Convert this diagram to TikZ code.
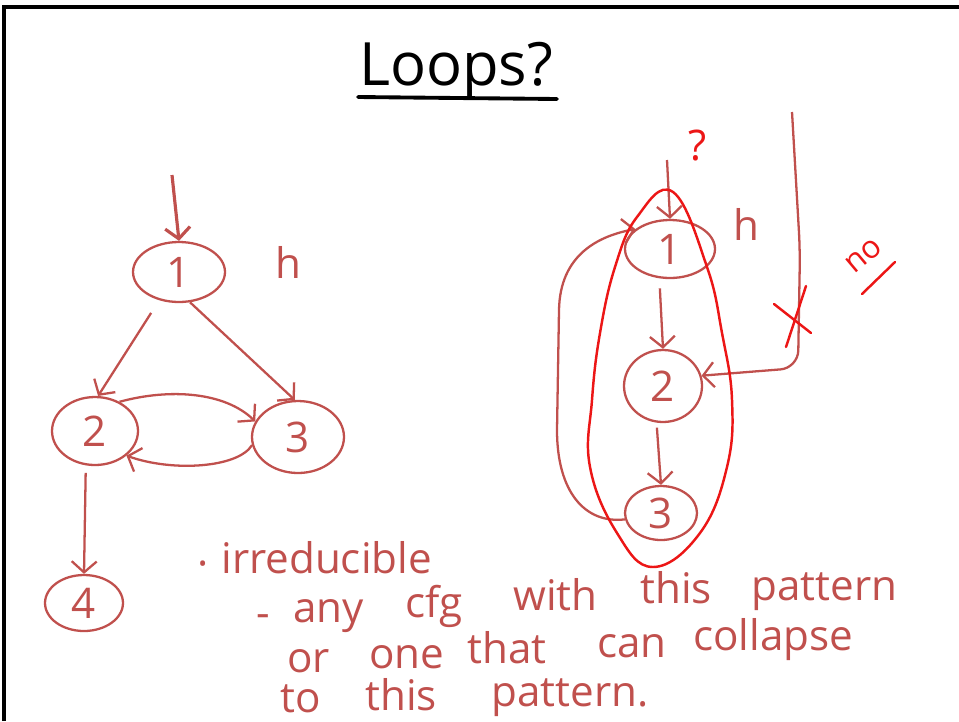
\documentclass[tikz,border=0pt]{standalone}
\usepackage{fontspec}
\setmainfont{Open Sans}
\usepackage{tikz}
\usetikzlibrary{arrows.meta, shapes, positioning}
\definecolor{pen}{RGB}{192,80,77}
\definecolor{marker}{RGB}{236,22,22}
\tikzset{
  blk/.style={ellipse, draw=pen, line width=1.3pt, inner sep=0pt, text=pen,
              font=\fontsize{24}{24}\selectfont},
  flow/.style={-{Straight Barb[length=2.2mm, width=5mm]}, draw=pen, line width=1.3pt},
  ink/.style={text=pen, font=\fontsize{24}{24}\selectfont},
  note/.style={ink, anchor=base west, inner sep=0pt},
  redpen/.style={draw=marker, line width=1.4pt, line cap=round, line join=round},
  redtext/.style={text=marker, inner sep=0pt}
}

\begin{document}
\begin{tikzpicture}[x=0.02cm, y=-0.02cm]
  \useasboundingbox (0,0) rectangle (959,721);
  \draw[line width=2.1pt] (4,721) -- (4,7) -- (959,7);

  \node[font=\fontsize{34}{36}\selectfont, anchor=base, inner sep=0pt] (title) at (456,85) {Loops?};
  \draw[line width=2.2pt, line cap=round] (358,97) -- (557,99);

  % left graph
  \node[blk, minimum width=1.84cm, minimum height=1.2cm] (L1) at (179,272) {1};
  \node[blk, minimum width=1.72cm, minimum height=1.36cm] (L2) at (95,431) {2};
  \node[blk, minimum width=1.84cm, minimum height=1.44cm] (L3) at (298,437) {3};
  \node[blk, minimum width=1.56cm, minimum height=1.12cm] (L4) at (84,603) {4};
  \node[ink] (Lh) at (288,262) {h};
  \coordinate (Lin) at (172,175);
  \draw[flow, line width=1.8pt] (Lin) -- (L1.north);
  \draw[flow, shorten <=3mm] (L1.235) -- (L2.85);
  \draw[flow] (L1.-70) -- (L3.95);
  \draw[flow] (L2.50) .. controls (170,388) and (225,392) .. (L3.160);
  \draw[flow] (L3.190) .. controls (238,468) and (172,472) .. (L2.322);
  \draw[flow, shorten <=1.5mm] (L2.255) -- (L4.north);

  % right graph
  \node[blk, minimum width=1.8cm, minimum height=1.16cm] (R1) at (670,249) {1};
  \node[blk, minimum width=1.56cm, minimum height=1.44cm] (R2) at (663,386) {2};
  \node[blk, minimum width=1.44cm, minimum height=1.08cm] (R3) at (661,513) {3};
  \node[ink] (Rh) at (746,224) {h};
  \coordinate (Rin) at (667,160);
  \coordinate (Rside) at (792,112);
  \draw[flow] (Rin) -- (R1.north);
  \draw[flow, shorten <=2mm] (R1.250) -- (R2.north);
  \draw[flow, shorten <=1mm] (R2.260) -- (R3.north);
  \draw[flow] (R3.190) .. controls (585,524) and (557,492) .. (557,430)
    -- (559,310) .. controls (560,255) and (598,236) .. (R1.150);
  \draw[flow, rounded corners=0.35cm] (Rside) -- (800,250) -- (798,368) -- (R2.15);

  % red annotations
  \draw[redpen] plot[smooth cycle, tension=0.7] coordinates {(673,192) (707,267)
    (722,333) (732,400) (727,467) (700,533) (653,567) (617,533) (590,467)
    (592,400) (600,333) (615,267) (637,217)};
  \draw[redpen] (774,304) -- (811,333);
  \draw[redpen] (806,286) -- (786,347);
  \node[redtext, font=\fontsize{24}{24}\selectfont] (qm) at (698,146) {?};
  \node[redtext, font=\fontsize{18}{18}\selectfont, rotate=40] (no) at (864,256) {no};
  \draw[redpen] (862,294) -- (895,262);

  % notes
  \foreach \w/\x/\y [count=\i] in {·/197/578, irreducible/221/573,
      -/256/627, any/293/622, cfg/405/617, with/513/610, this/640/603, pattern/751/600,
      or/287/672, one/369/668, that/467/663, can/597/657, collapse/693/650,
      to/280/712, this/365/710, pattern./491/706}
    \node[note] (w\i) at (\x,\y) {\w};
\end{tikzpicture}
\end{document}
